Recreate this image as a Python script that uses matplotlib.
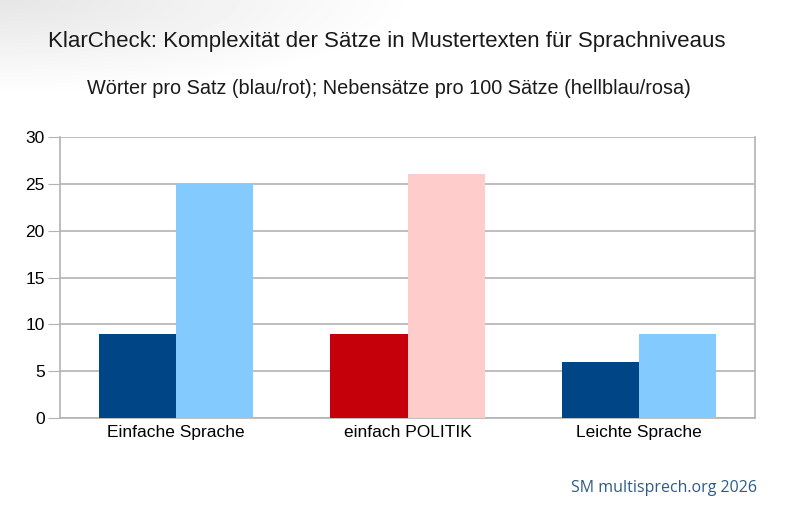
import numpy as np
import matplotlib.pyplot as plt

plt.rcParams['font.family'] = ['Liberation Sans', 'DejaVu Sans']

# data
categories = ['Einfache Sprache', 'einfach POLITIK', 'Leichte Sprache']
woerter = [9, 9, 6]          # Wörter pro Satz
nebensaetze = [25, 26, 9]    # Nebensätze pro 100 Sätze
yticks = [0, 5, 10, 15, 20, 25, 30]

col_dark = ['#004586', '#C5000B', '#004586']
col_light = ['#83CAFF', '#FFCCCC', '#83CAFF']

fig = plt.figure(figsize=(7.87, 5.19), dpi=100)

# soft grey shade in the upper left corner
bg = fig.add_axes([0, 0, 1, 1], zorder=-10)
yy, xx = np.mgrid[0:519, 0:787]
shade = np.clip(1 - np.hypot(xx / 420.0, yy / 95.0), 0, 1) * 0.10
bg.imshow(1 - shade, cmap='gray', vmin=0, vmax=1, aspect='auto')
bg.axis('off')

ax = fig.add_axes([60 / 787, 1 - 418 / 519, 695 / 787, 281 / 519])
x = np.arange(len(categories))
w = 1 / 3
ax.bar(x - w / 2, woerter, width=w, color=col_dark, zorder=3)
ax.bar(x + w / 2, nebensaetze, width=w, color=col_light, zorder=3)

ax.set_xlim(-0.5, 2.5)
ax.set_ylim(0, 30)
ax.set_yticks(yticks)
ax.set_xticks(x)
ax.set_xticklabels(categories, fontsize=12.5)
ax.tick_params(axis='x', length=0, pad=5)
ax.tick_params(axis='y', length=9, color='#b3b3b3', labelsize=12.5, pad=2)
ax.grid(axis='y', color='#b3b3b3', linewidth=1.2, zorder=0)
for s in ax.spines.values():
    s.set_color('#b3b3b3')
    s.set_linewidth(1.2)
ax.spines['top'].set_visible(False)

fig.text(387 / 787, 1 - 42 / 519,
         'KlarCheck: Komplexität der Sätze in Mustertexten für Sprachniveaus',
         ha='center', va='center', fontsize=16, color='#1a1a1a')
fig.text(389 / 787, 1 - 88 / 519,
         'Wörter pro Satz (blau/rot); Nebensätze pro 100 Sätze (hellblau/rosa)',
         ha='center', va='center', fontsize=14.3, color='#1a1a1a')
fig.text(664 / 787, 1 - 488 / 519, 'SM multisprech.org 2026',
         ha='center', va='center', fontsize=11.5, color='#2E5C8A',
         family=['Open Sans', 'DejaVu Sans'])

fig.savefig('out.png', dpi=100)
